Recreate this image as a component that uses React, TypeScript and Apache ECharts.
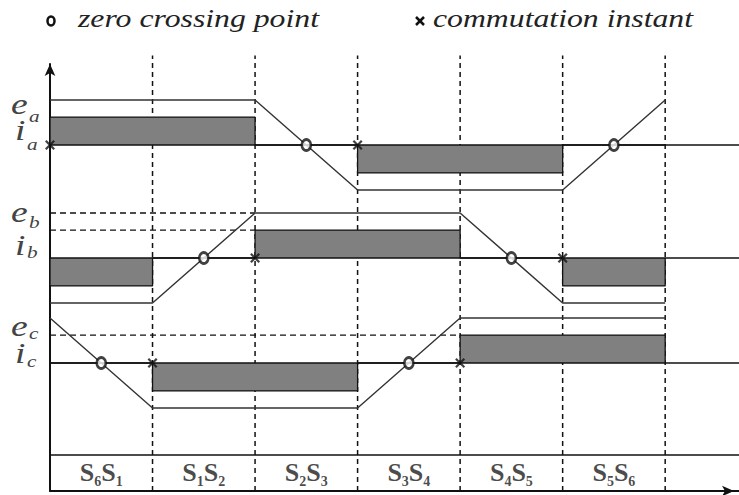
import React, { useEffect, useRef } from "react";
import * as echarts from "echarts";

// Switching intervals (upper/lower switch subscripts) for the six 60° sectors
const SECTORS: [string, string][] = [
  ["6", "1"],
  ["1", "2"],
  ["2", "3"],
  ["3", "4"],
  ["4", "5"],
  ["5", "6"],
];
const SECTOR_BOUNDS = [1, 2, 3, 4, 5, 6];

// Trapezoidal back-EMF level at each sector boundary 0..6 (linear in between)
const EMF_A = [1, 1, 1, -1, -1, -1, 1];
const EMF_B = [-1, -1, 1, 1, 1, -1, -1];
const EMF_C = [1, -1, -1, -1, 1, 1, 1];

// Phase current sign in each sector
const CUR_A = [1, 1, 0, -1, -1, 0];
const CUR_B = [-1, 0, 1, 1, 0, -1];
const CUR_C = [0, -1, -1, 0, 1, 1];
const CURRENT_LEVEL = 0.62;

// Commutation instants (sector boundary index) per phase
const COMM_A = [0, 3];
const COMM_B = [2, 5];
const COMM_C = [1, 4];

// Dashed reference levels: [level, end of dash]
const REF_A: [number, number][] = [];
const REF_B: [number, number][] = [
  [1, 2],
  [CURRENT_LEVEL, 2],
];
const REF_C: [number, number][] = [[CURRENT_LEVEL, 4]];

const X_MAX = 6.72;
const SERIF = "Liberation Serif";

const CROSS =
  "path://M0,1.6L1.6,0L5,3.4L8.4,0L10,1.6L6.6,5L10,8.4L8.4,10L5,6.6L1.6,10L0,8.4L3.4,5Z";

function currentPath(signs: number[]) {
  const pts: number[][] = [[0, 0]];
  signs.forEach((s, k) => {
    const v = s * CURRENT_LEVEL;
    pts.push([k, v], [k + 1, v]);
  });
  pts.push([signs.length, 0]);
  return pts;
}

function zeroCrossings(emf: number[]) {
  const xs: number[][] = [];
  for (let k = 0; k < emf.length - 1; k++) {
    if (emf[k] * emf[k + 1] < 0) {
      xs.push([k + emf[k] / (emf[k] - emf[k + 1]), 0]);
    }
  }
  return xs;
}

const PHASES = [
  { emf: EMF_A, cur: CUR_A, comm: COMM_A, ref: REF_A, top: 91, name: "a" },
  { emf: EMF_B, cur: CUR_B, comm: COMM_B, ref: REF_B, top: 204, name: "b" },
  { emf: EMF_C, cur: CUR_C, comm: COMM_C, ref: REF_C, top: 309, name: "c" },
];

// label glyph positions (middle line) for e_x / i_x
const LABEL_ROWS = [
  { e: 104, es: 116, i: 130, is: 144 },
  { e: 212, es: 222, i: 245, is: 252 },
  { e: 326, es: 333, i: 353, is: 361 },
];

export default function App() {
  const ref = useRef<HTMLDivElement>(null);

  useEffect(() => {
    if (!ref.current) return;
    const chart = echarts.init(ref.current, null, { renderer: "svg" });

    const grids: any[] = [{ left: 50, right: 0, top: 64, bottom: 4 }];
    const xAxes: any[] = [
      {
        type: "value",
        gridIndex: 0,
        min: 0,
        max: X_MAX,
        axisLine: {
          show: true,
          symbol: ["none", "arrow"],
          symbolSize: [8, 12],
          symbolOffset: [0, -5],
          lineStyle: { color: "#111", width: 2 },
        },
        axisTick: { show: false },
        axisLabel: { show: false },
        splitLine: { show: false },
      },
    ];
    const yAxes: any[] = [
      {
        type: "value",
        gridIndex: 0,
        min: 0,
        max: 1,
        axisLine: {
          show: true,
          symbol: ["none", "arrow"],
          symbolSize: [8, 12],
          lineStyle: { color: "#111", width: 2 },
        },
        axisTick: { show: false },
        axisLabel: { show: false },
        splitLine: { show: false },
      },
    ];
    const series: any[] = [];

    // sector boundaries
    SECTOR_BOUNDS.forEach((b) => {
      series.push({
        type: "line",
        xAxisIndex: 0,
        yAxisIndex: 0,
        clip: false,
        symbol: "none",
        silent: true,
        data: [
          [b, 0],
          [b, 1.02],
        ],
        lineStyle: { color: "#111", width: 1.5, type: [5, 4] },
        z: 1,
      });
    });
    // separator of the switching row
    series.push({
      type: "line",
      xAxisIndex: 0,
      yAxisIndex: 0,
      symbol: "none",
      silent: true,
      data: [
        [0, 0.0843],
        [X_MAX, 0.0843],
      ],
      lineStyle: { color: "#111", width: 1.6 },
      z: 2,
    });
    // switching-pair labels
    series.push({
      type: "scatter",
      xAxisIndex: 0,
      yAxisIndex: 0,
      symbolSize: 0,
      silent: true,
      data: SECTORS.map((s, k) => [k + 0.5, 0.044]),
      label: {
        show: true,
        position: "inside",
        formatter: (p: any) => {
          const s = SECTORS[p.dataIndex];
          return `{S|S}{n|${s[0]}}{S|S}{n|${s[1]}}`;
        },
        rich: {
          S: {
            fontFamily: SERIF,
            fontWeight: "bold",
            fontSize: 26,
            color: "#1a1a1a",
            lineHeight: 24,
            verticalAlign: "middle",
          },
          n: {
            fontFamily: SERIF,
            fontWeight: "bold",
            fontSize: 14,
            color: "#1a1a1a",
            lineHeight: 33,
            verticalAlign: "bottom",
          },
        },
      },
    });

    PHASES.forEach((ph, p) => {
      const gi = p + 1;
      grids.push({ left: 50, right: 0, top: ph.top, height: 108 });
      xAxes.push({ type: "value", gridIndex: gi, min: 0, max: X_MAX, show: false });
      yAxes.push({ type: "value", gridIndex: gi, min: -1.2, max: 1.2, show: false });
      const axes = { xAxisIndex: gi, yAxisIndex: gi };

      ph.ref.forEach(([lvl, end]) => {
        series.push({
          type: "line",
          ...axes,
          symbol: "none",
          silent: true,
          data: [
            [0, lvl],
            [end, lvl],
          ],
          lineStyle: { color: "#111", width: 1.4, type: [6, 4] },
          z: 1,
        });
      });
      // phase current
      series.push({
        type: "line",
        ...axes,
        symbol: "none",
        silent: true,
        data: currentPath(ph.cur),
        lineStyle: { color: "#111", width: 1.3 },
        areaStyle: { color: "#808080", opacity: 1, origin: 0 },
        z: 2,
      });
      // zero axis of the phase
      series.push({
        type: "line",
        ...axes,
        symbol: "none",
        silent: true,
        data: [
          [0, 0],
          [X_MAX, 0],
        ],
        lineStyle: { color: "#111", width: 1.7 },
        z: 3,
      });
      // back-EMF
      series.push({
        type: "line",
        ...axes,
        symbol: "none",
        silent: true,
        data: ph.emf.map((v, k) => [k, v]),
        lineStyle: { color: "#333", width: 1.4 },
        z: 4,
      });
      // zero crossing points
      series.push({
        type: "scatter",
        ...axes,
        symbol: "circle",
        symbolSize: [9, 11],
        silent: true,
        data: zeroCrossings(ph.emf),
        itemStyle: { color: "#fff", borderColor: "#111", borderWidth: 2.7 },
        z: 5,
      });
      // commutation instants
      series.push({
        type: "scatter",
        ...axes,
        symbol: CROSS,
        symbolSize: 10,
        silent: true,
        data: ph.comm.map((x) => [x, 0]),
        itemStyle: { color: "#111" },
        z: 5,
      });
    });

    const textStyle = (text: string, size: number, fill: string) => ({
      text,
      fontFamily: SERIF,
      fontStyle: "italic",
      fontSize: size,
      fill,
      verticalAlign: "middle",
      align: "left",
    });

    const graphic: any[] = [
      {
        type: "ellipse",
        shape: { cx: 51, cy: 21, rx: 3.5, ry: 4.5 },
        style: { fill: "none", stroke: "#111", lineWidth: 2.5 },
      },
      {
        type: "text",
        x: 78,
        y: 19,
        scaleX: 1.27,
        style: textStyle("zero crossing point", 25, "#222"),
      },
      {
        type: "line",
        shape: { x1: 416, y1: 17, x2: 424, y2: 25 },
        style: { stroke: "#111", lineWidth: 2.5 },
      },
      {
        type: "line",
        shape: { x1: 424, y1: 17, x2: 416, y2: 25 },
        style: { stroke: "#111", lineWidth: 2.5 },
      },
      {
        type: "text",
        x: 433,
        y: 19,
        scaleX: 1.27,
        style: textStyle("commutation instant", 25, "#222"),
      },
    ];

    PHASES.forEach((ph, p) => {
      const r = LABEL_ROWS[p];
      const items: [string, number, number, number][] = [
        ["e", 11, r.e, 30],
        [ph.name, 29, r.es, 17],
        ["i", 15, r.i, 30],
        [ph.name, 27, r.is, 17],
      ];
      items.forEach(([t, x, y, size]) => {
        graphic.push({
          type: "text",
          x,
          y,
          scaleX: 1.25,
          style: textStyle(t, size, "#444"),
        });
      });
    });

    chart.setOption({
      animation: false,
      backgroundColor: "#fff",
      grid: grids,
      xAxis: xAxes,
      yAxis: yAxes,
      series,
      graphic,
    });

    return () => chart.dispose();
  }, []);

  return (
    <div
      ref={ref}
      style={{ position: "fixed", left: 0, top: 0, width: 739, height: 495 }}
    />
  );
}
